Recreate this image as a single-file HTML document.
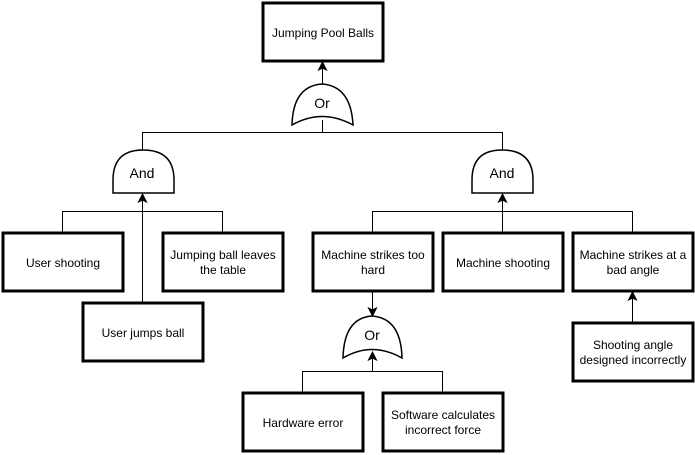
<html><body style="margin:0;background:#fff">
<svg width="695" height="455" xmlns="http://www.w3.org/2000/svg" font-family="Liberation Sans, sans-serif" font-size="12" text-anchor="middle">
<g fill="none" stroke="#000" stroke-width="1">
<line x1="322.5" y1="86" x2="322.5" y2="66"/>
<polyline points="142.5,150 142.5,132.5 502.5,132.5 502.5,150"/>
<line x1="322.5" y1="120" x2="322.5" y2="132"/>
<line x1="142.5" y1="302" x2="142.5" y2="198"/>
<polyline points="62.5,232 62.5,211.5 222.5,211.5 222.5,232"/>
<line x1="502.5" y1="232" x2="502.5" y2="198"/>
<polyline points="372.5,232 372.5,211.5 632.5,211.5 632.5,232"/>
<line x1="372.5" y1="292" x2="372.5" y2="312"/>
<line x1="372.5" y1="371" x2="372.5" y2="356"/>
<polyline points="302.5,392 302.5,371.5 442.5,371.5 442.5,392"/>
<line x1="632.5" y1="322" x2="632.5" y2="296"/>
</g>
<g fill="#fff" stroke="#000" stroke-width="1.5">
<path d="M292,125 Q293,86 322,84 Q351,86 353,125 Q322,108 292,125 Z"/>
<path d="M113,193 L113,180 Q113,150 143,150 Q174,150 174,180 L174,193 Z"/>
<path d="M472,193 L472,180 Q472,150 502,150 Q533,150 533,180 L533,193 Z"/>
<path d="M343,358 Q344,318 372,316 Q401,318 402,358 Q372,341 343,358 Z"/>
</g>
<g fill="#000" stroke="#000" stroke-width="1">
<polygon points="322.5,62 318.5,70 322.5,68 326.5,70"/>
<polygon points="142.5,194 138.5,202 142.5,200 146.5,202"/>
<polygon points="502.5,194 498.5,202 502.5,200 506.5,202"/>
<polygon points="372.5,352 368.5,360 372.5,358 376.5,360"/>
<polygon points="632.5,292 628.5,300 632.5,298 636.5,300"/>
<polygon points="372.5,316 368.5,308 372.5,310 376.5,308"/>
</g>
<g fill="#fff" stroke="#000" stroke-width="3">
<rect x="263" y="3" width="120" height="58"/>
<rect x="3" y="233" width="120" height="58"/>
<rect x="163" y="233" width="120" height="58"/>
<rect x="83" y="303" width="120" height="58"/>
<rect x="313" y="233" width="120" height="58"/>
<rect x="443" y="233" width="120" height="58"/>
<rect x="573" y="233" width="120" height="58"/>
<rect x="573" y="323" width="120" height="58"/>
<rect x="243" y="393" width="120" height="58"/>
<rect x="383" y="393" width="120" height="58"/>
</g>
<g fill="#000">
<text x="323" y="37">Jumping Pool Balls</text>
<text x="322" y="108" font-size="14">Or</text>
<text x="142" y="178" font-size="14">And</text>
<text x="502" y="178" font-size="14">And</text>
<text x="372" y="340" font-size="14">Or</text>
<text x="63" y="267">User shooting</text>
<text x="223" y="259">Jumping ball leaves</text><text x="223" y="274">the table</text>
<text x="143" y="337">User jumps ball</text>
<text x="373" y="259">Machine strikes too</text><text x="373" y="274">hard</text>
<text x="503" y="267">Machine shooting</text>
<text x="633" y="259">Machine strikes at a</text><text x="633" y="274">bad angle</text>
<text x="633" y="349">Shooting angle</text><text x="633" y="364">designed incorrectly</text>
<text x="303" y="427">Hardware error</text>
<text x="443" y="419">Software calculates</text><text x="443" y="434">incorrect force</text>
</g>
</svg>
</body></html>
